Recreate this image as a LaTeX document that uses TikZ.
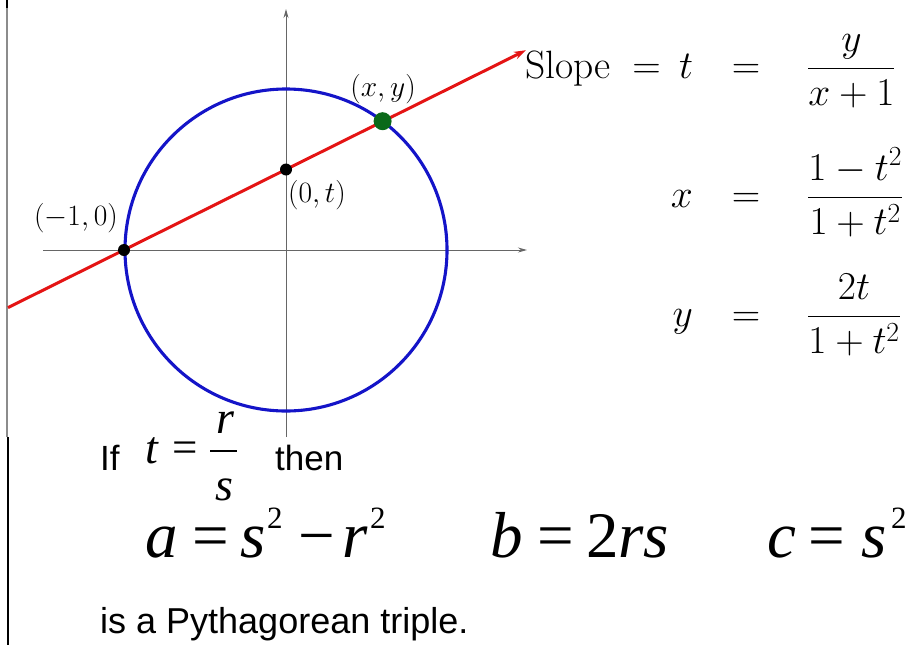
\RequirePackage{fix-cm}
\documentclass[tikz,border=0pt]{standalone}
\usepackage{fontspec}
\newfontfamily\tms{Liberation Serif}
\newfontfamily\arl{Liberation Sans}
\usetikzlibrary{arrows.meta}
\definecolor{lnred}{RGB}{228,20,20}
\definecolor{circblue}{RGB}{20,20,200}
\definecolor{ptgreen}{RGB}{10,105,25}
\begin{document}
\begin{tikzpicture}[x=1pt,y=-1pt,
  axis/.style={draw=black!60, line width=1pt, -{Stealth[length=9pt,width=5pt]}},
  circ/.style={draw=circblue, line width=3.1pt},
  redline/.style={draw=lnred, line width=3pt, -{Stealth[length=12pt,width=8pt]}},
  dot/.style={circle, fill=black, inner sep=0pt, minimum size=12pt},
  gdot/.style={circle, fill=ptgreen, inner sep=0pt, minimum size=18pt},
  lbl/.style={inner sep=0pt, font=\fontsize{29.5}{34}\selectfont},
  eqn/.style={inner sep=0pt, font=\fontsize{39.5}{46}\selectfont},
  sans/.style={inner sep=0pt, font=\arl\fontsize{35}{42}\selectfont},
  sansb/.style={inner sep=0pt, font=\arl\fontsize{36}{42}\selectfont},
  tsm/.style={inner sep=0pt, font=\tms\itshape\fontsize{46}{50}\selectfont},
  tsmup/.style={inner sep=0pt, font=\tms\fontsize{45}{50}\selectfont},
  big/.style={inner sep=0pt, font=\tms\itshape\fontsize{65}{70}\selectfont},
  bigup/.style={inner sep=0pt, font=\tms\fontsize{65}{70}\selectfont},
  sup/.style={inner sep=0pt, font=\tms\fontsize{31}{34}\selectfont}]
\useasboundingbox (0,0) rectangle (909,645);
% left edge lines
\draw[black!45, line width=1.4pt] (7,0) -- (7,437);
\draw[black, line width=2pt] (7,0) -- (7,8);
\draw[black, line width=2pt] (8,437) -- (8,645);
% axes
\coordinate (xs) at (43,250);
\coordinate (xe) at (527,250);
\coordinate (ys) at (286,437);
\coordinate (ye) at (286,9);
\draw[axis] (xs) -- (xe);
\draw[axis] (ys) -- (ye);
% circle
\node[circ, circle, inner sep=0pt, minimum size=322pt] (unit) at (286,250) {};
% red line
\coordinate (ls) at (8,307.6);
\coordinate (le) at (526,50.2);
\draw[redline] (ls) -- (le);
% points
\node[dot] (pm) at (124,250) {};
\node[dot] (p0t) at (286,169.5) {};
\node[gdot] (pxy) at (382.6,121.2) {};
% labels
\node[lbl] (lxy) at (383,89) {$(x,y)$};
\node[lbl] (l0t) at (317,195) {$(0,t)$};
\node[lbl] (lm10) at (76,218) {$(-1,0)$};
% right equations
\node[eqn, anchor=base west] (slope) at (525,78) {Slope};
\node[eqn, anchor=base] (eqa) at (646.5,78) {$=$};
\node[eqn, anchor=base west] (tt) at (679,78) {$t$};
\node[eqn, anchor=base] (eq1) at (746,78) {$=$};
\node[eqn, anchor=base west] (f1) at (807,78) {$\displaystyle\frac{y}{x+1}$};
\node[eqn, anchor=base east] (xx) at (693,207) {$x$};
\node[eqn, anchor=base] (eq2) at (746,207) {$=$};
\node[eqn, anchor=base west] (f2) at (807,207) {$\displaystyle\frac{1-t^2}{1+t^2}$};
\node[eqn, anchor=base east] (yy) at (693,326) {$y$};
\node[eqn, anchor=base] (eq3) at (746,326) {$=$};
\node[eqn, anchor=base west] (f3) at (807,326) {$\displaystyle\frac{2t}{1+t^2}$};
% If t = r/s then
\node[sans, anchor=base west] (if) at (100,470) {If};
\node[tsm, anchor=base west] (ts) at (145,463) {t};
\node[tsmup, anchor=center] (teq) at (185.5,452) {=};
\coordinate (bl) at (210,451);
\coordinate (br) at (237,451);
\draw[black, line width=1.6pt] (bl) -- (br);
\node[tsm, anchor=base] (rr) at (225,433) {r};
\node[tsm, anchor=base] (ss) at (224,500) {s};
\node[sans, anchor=base west] (then) at (275,470) {then};
% a = s^2 - r^2
\node[big, anchor=base west] (a) at (145,557) {a};
\node[bigup, anchor=base west] (aeq) at (192,557) {=};
\node[big, anchor=base west] (as) at (240,557) {s};
\node[sup, anchor=base west] (as2) at (267,528) {2};
\node[bigup, anchor=base west] (amin) at (298,557) {\symbol{"2212}};
\node[big, anchor=base west] (ar) at (342,557) {r};
\node[sup, anchor=base west] (ar2) at (370,528) {2};
% b = 2rs
\node[big, anchor=base west] (b) at (490,557) {b};
\node[bigup, anchor=base west] (beq) at (537,557) {=};
\node[bigup, anchor=base west] (b2rs) at (586,557) {2\textit{rs}};
% c = s^2
\node[big, anchor=base west] (c) at (767,557) {c};
\node[bigup, anchor=base west] (ceq) at (808,557) {=};
\node[big, anchor=base west] (cs) at (861,557) {s};
\node[sup, anchor=base west] (cs2) at (891,528) {2};
% last line
\node[sansb, anchor=base west] (pyth) at (100,633) {is a Pythagorean triple.};
\end{tikzpicture}
\end{document}
